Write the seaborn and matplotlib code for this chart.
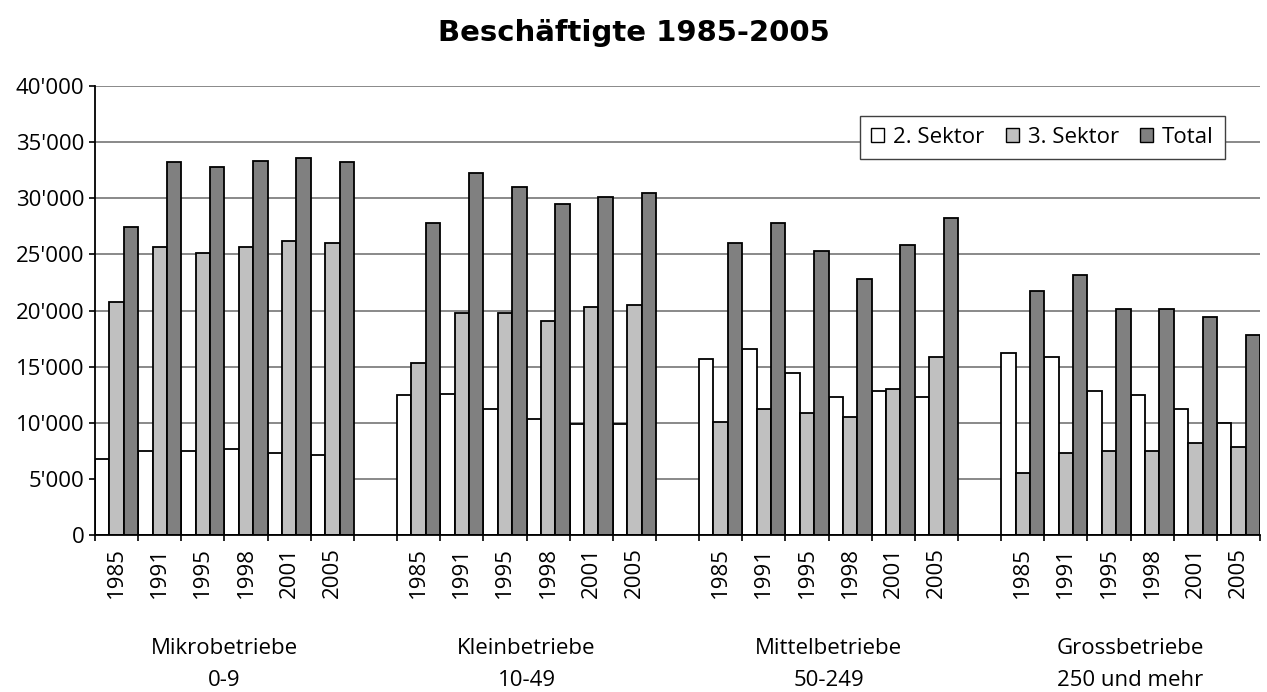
"""Beschäftigte 1985-2005: grouped bars by firm size class, Excel-style layout."""
import matplotlib
matplotlib.use("Agg")
import matplotlib.pyplot as plt
import numpy as np
import pandas as pd
import seaborn as sns
from matplotlib.ticker import FuncFormatter

YEARS = ["1985", "1991", "1995", "1998", "2001", "2005"]
GROUP_NAMES = ["Mikrobetriebe", "Kleinbetriebe", "Mittelbetriebe", "Grossbetriebe"]
GROUP_RANGES = ["0-9", "10-49", "50-249", "250 und mehr"]
SERIES = ["2. Sektor", "3. Sektor", "Total"]

# values, one list per group and series
sektor2 = [
    [6750, 7500, 7500, 7650, 7300, 7100],
    [12470, 12600, 11200, 10300, 9850, 9850],
    [15700, 16600, 14400, 12300, 12800, 12300],
    [16200, 15850, 12800, 12450, 11200, 9970],
]
sektor3 = [
    [20750, 25700, 25150, 25700, 26200, 26000],
    [15300, 19750, 19750, 19100, 20300, 20500],
    [10100, 11200, 10850, 10500, 13000, 15850],
    [5480, 7300, 7470, 7470, 8180, 7830],
]
total = [
    [27470, 33200, 32800, 33350, 33550, 33200],
    [27800, 32250, 31000, 29450, 30150, 30500],
    [26000, 27800, 25300, 22800, 25850, 28200],
    [21700, 23200, 20150, 20150, 19450, 17830],
]
COLORS = ["#FFFFFF", "#C0C0C0", "#808080"]
FS = 16

sns.set_theme(style="white")
plt.rcParams["font.family"] = ["Open Sans", "DejaVu Sans"]
plt.rcParams.update({"text.color": "black", "xtick.color": "black",
                     "ytick.color": "black", "axes.labelcolor": "black"})

# long table; one empty category between the groups
rows, order, labels = [], [], []
for gi in range(len(GROUP_NAMES)):
    if gi > 0:
        order.append(f"gap{gi}")
        labels.append("")
    for yi, yr in enumerate(YEARS):
        cat = f"{gi}-{yr}"
        order.append(cat)
        labels.append(yr)
        for name, data in zip(SERIES, [sektor2, sektor3, total]):
            rows.append({"cat": cat, "series": name, "value": data[gi][yi]})
df = pd.DataFrame(rows)

fig, ax = plt.subplots(figsize=(12.67, 6.92), dpi=100)
fig.subplots_adjust(left=0.075, right=0.9945, top=0.8757, bottom=0.2269)

sns.barplot(data=df, x="cat", y="value", hue="series", order=order,
            hue_order=SERIES, palette=COLORS, saturation=1, width=1.0,
            edgecolor="black", linewidth=1.3, ax=ax)

ax.set_xlim(-0.5, len(order) - 0.5)
ax.set_ylim(0, 40000)
ax.set_yticks(np.arange(0, 40001, 5000))
ax.yaxis.set_major_formatter(FuncFormatter(lambda v, _: f"{int(v):,}".replace(",", "'")))
ax.yaxis.grid(True, color="#808080", lw=1.3)
ax.xaxis.grid(False)
ax.set_axisbelow(True)

# ticks on category borders, year labels in between
ax.set_xticks(np.arange(-0.5, len(order), 1.0))
ax.set_xticklabels([])
ax.set_xticks(np.arange(len(order)), labels=labels, minor=True)
ax.tick_params(axis="x", which="major", direction="out", length=4.5, width=1.2,
               color="black", bottom=True)
ax.tick_params(axis="x", which="minor", length=0, pad=9, rotation=90,
               labelsize=FS, labelcolor="black")
ax.tick_params(axis="y", direction="out", length=4.5, width=1.2, color="black",
               left=True, labelsize=FS, pad=3, labelcolor="black")
ax.set_xlabel("")
ax.set_ylabel("")

for side in ["top", "right"]:
    ax.spines[side].set_visible(False)
for side in ["left", "bottom"]:
    ax.spines[side].set_color("black")
    ax.spines[side].set_linewidth(1.3)

# group captions below the year labels
xform = ax.get_xaxis_transform()
for gi, (name, rng) in enumerate(zip(GROUP_NAMES, GROUP_RANGES)):
    xc = gi * 7 + 2.5
    ax.text(xc, -0.252, name, transform=xform, ha="center", va="center",
            fontsize=FS, color="black")
    ax.text(xc, -0.323, rng, transform=xform, ha="center", va="center",
            fontsize=FS, color="black")

leg = ax.legend(loc="upper right", bbox_to_anchor=(0.970, 0.933), ncol=3,
                frameon=True, fancybox=False, framealpha=1, edgecolor="#404040",
                fontsize=FS, handlelength=0.6, handleheight=0.6,
                handletextpad=0.4, columnspacing=0.95, borderaxespad=0,
                borderpad=0.5, title=None)
leg.get_frame().set_linewidth(1.0)
for h in leg.legend_handles:
    h.set_linewidth(1.0)
for t in leg.get_texts():
    t.set_color("black")

fig.text(0.5, 1 - 33 / 692, "Beschäftigte 1985-2005", ha="center", va="center",
         fontsize=21, fontweight="bold", family="DejaVu Sans", color="black")

fig.savefig("out.png", dpi=100)
